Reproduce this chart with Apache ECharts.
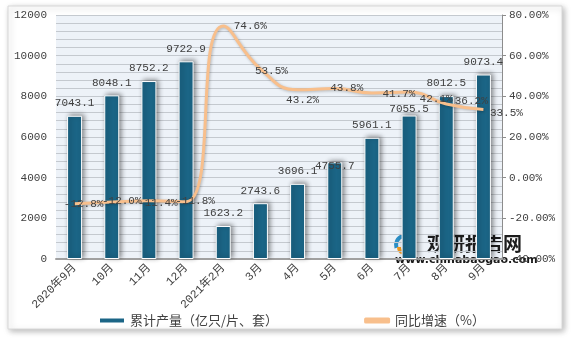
<!DOCTYPE html>
<html><head><meta charset="utf-8">
<script src="https://cdn.jsdelivr.net/npm/echarts@6/dist/echarts.min.js"></script>
<style>html,body{margin:0;padding:0;background:#fff}#c{width:574px;height:340px}</style>
</head><body><div id="c"></div>
<script>
const categories = ['2020年9月','10月','11月','12月','2021年2月','3月','4月','5月','6月','7月','8月','9月'];
const output = [7043.1, 8048.1, 8752.2, 9722.9, 1623.2, 2743.6, 3696.1, 4755.7, 5961.1, 7055.5, 8012.5, 9073.4];
const growth = [-12.8, -12.0, -11.4, -11.8, 74.6, 53.5, 43.2, 43.8, 41.7, 42.1, 36.2, 33.5];
const leftTicks = [0, 2000, 4000, 6000, 8000, 10000, 12000];
const rightTicks = [-40, -20, 0, 20, 40, 60, 80];
const seriesNames = ['累计产量（亿只/片、套）', '同比增速（%）'];

const MONO = '"Liberation Mono", "Noto Sans CJK SC", monospace';
const lineLabelOffsets = [[9,0],[10,-1],[9,2],[9,-1],[27,0],[11,2],[5,10],[12,-1],[27,1],[27,7],[25,-3],[23,4]];
const barLabelOffsets = {7:[0,16], 9:[0,6]};

const chart = echarts.init(document.getElementById('c'));
chart.setOption({
  animation: false,
  graphic: [
    { type: 'rect', z: -100, shape: { x: 8, y: 6, width: 554, height: 323 },
      style: { fill: '#fff', stroke: '#d8d8d8', lineWidth: 1, shadowBlur: 6, shadowColor: 'rgba(0,0,0,0.28)', shadowOffsetX: 2, shadowOffsetY: 2 } },
    { type: 'group', z: 100, children: [
      { type: 'arc', shape: { cx: 405, cy: 245, r: 9, startAngle: Math.PI * 0.9, endAngle: Math.PI * 2.1 }, style: { stroke: '#2b8fc6', lineWidth: 4, fill: null } },
      { type: 'arc', shape: { cx: 405, cy: 247, r: 6, startAngle: Math.PI * 0.1, endAngle: Math.PI * 1.0 }, style: { stroke: '#f29a1f', lineWidth: 4, fill: null } },
      { type: 'text', style: { x: 427, y: 244, text: '观研报告网', font: 'bold 19px "Noto Sans CJK SC"', fill: '#1c1c1c', verticalAlign: 'middle' } },
      { type: 'text', style: { x: 395, y: 260, text: 'www.chinabaogao.com', font: 'bold 11px "DejaVu Sans"', fill: '#1c1c1c', verticalAlign: 'middle' } }
    ]}
  ],
  grid: { left: 56, right: 72, top: 15, bottom: 81, show: true, backgroundColor: '#EDF2F8', borderWidth: 0 },
  legend: {
    left: 93, top: 309, itemGap: 86, itemWidth: 26, itemHeight: 6,
    textStyle: { fontSize: 13, color: '#404040', fontFamily: '"Noto Sans CJK SC"' },
    data: [ { name: seriesNames[0], icon: 'rect' }, { name: seriesNames[1], icon: 'roundRect', itemStyle: { color: '#F8BF8C' } } ]
  },
  xAxis: {
    type: 'category', data: categories,
    axisLine: { lineStyle: { color: '#A0A0A0', width: 2 } },
    axisTick: { show: false },
    axisLabel: { interval: 0, rotate: 45, fontSize: 11.5, color: '#404040', fontFamily: MONO, margin: 7 }
  },
  yAxis: [
    { type: 'value', min: leftTicks[0], max: leftTicks[leftTicks.length - 1], interval: leftTicks[1] - leftTicks[0],
      axisLine: { show: false }, axisTick: { show: false },
      axisLabel: { fontSize: 11, color: '#404040', fontFamily: MONO, margin: 9, formatter: v => String(v) },
      splitLine: { show: true, lineStyle: { color: '#C4C9CF', width: 1 } },
      minorTick: { show: false, splitNumber: 5 },
      minorSplitLine: { show: true, lineStyle: { color: '#C4C9CF', width: 1 } } },
    { type: 'value', min: rightTicks[0], max: rightTicks[rightTicks.length - 1], interval: rightTicks[1] - rightTicks[0],
      position: 'right',
      axisLine: { show: true, lineStyle: { color: '#8C8C8C', width: 1 } },
      axisTick: { show: true, length: 4, lineStyle: { color: '#8C8C8C' } },
      axisLabel: { fontSize: 11, color: '#404040', fontFamily: MONO, margin: 7, formatter: v => v.toFixed(2) + '%' },
      splitLine: { show: false } }
  ],
  series: [
    { name: seriesNames[0], type: 'bar', yAxisIndex: 0, barWidth: 15,
      itemStyle: { color: '#1B6586', borderColor: '#ffffff', borderWidth: 1,
        shadowColor: 'rgba(0,0,0,0.45)', shadowBlur: 5, shadowOffsetX: 2, shadowOffsetY: -1 },
      data: output.map((v, i) => ({ value: v, label: { offset: barLabelOffsets[i] || [0, 0] } })),
      label: { show: true, position: 'top', distance: 7, fontSize: 11, color: '#404040', fontFamily: MONO,
        formatter: p => p.value.toFixed(1) } },
    { name: seriesNames[1], type: 'line', yAxisIndex: 1, smooth: 0.5, showSymbol: true, symbol: 'circle', symbolSize: 1, z: 5,
      lineStyle: { color: '#F8BF8C', width: 3, shadowColor: 'rgba(0,0,0,0.25)', shadowBlur: 3, shadowOffsetX: 1, shadowOffsetY: 1 },
      itemStyle: { color: 'rgba(248,191,140,0)', borderWidth: 0 },
      data: growth.map((v, i) => ({ value: v, label: { offset: lineLabelOffsets[i] } })),
      label: { show: true, position: 'inside', fontSize: 11, color: '#404040', fontFamily: MONO,
        formatter: p => p.value.toFixed(1) + '%' } }
  ]
});
</script></body></html>
